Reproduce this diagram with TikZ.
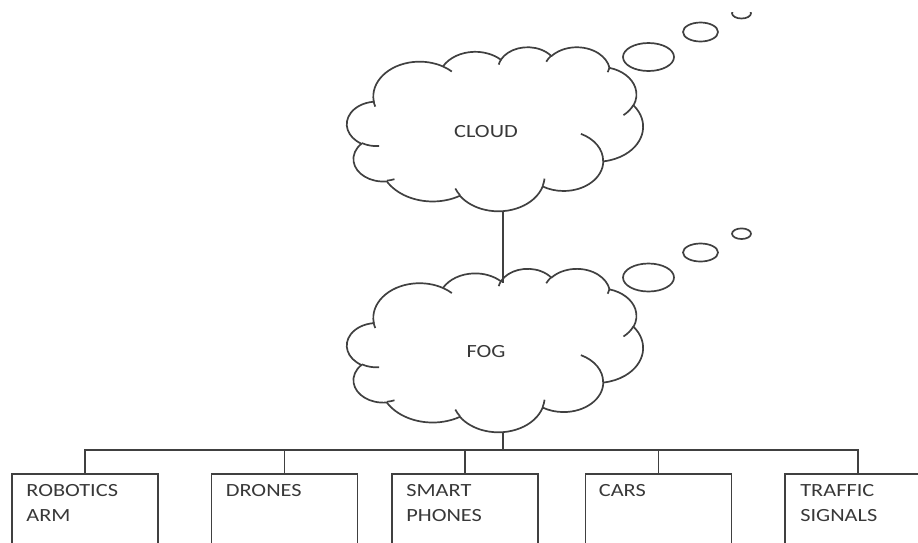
\documentclass[tikz,border=0pt]{standalone}
\usepackage{fontspec}
\setmainfont{Carlito}[FakeStretch=1.2]
\definecolor{ink}{HTML}{404040}
\definecolor{textgray}{HTML}{383838}

% point of the cloud outline, in hundredths of the 43200 x 43200 shape grid
\newcommand\cpt[2]{({\cx+(#1)/4.32*\csx},{-(\cy+(#2)/4.32*\csy)})}
% elliptic arc: radii wR hR (shape grid), start angle and sweep (degrees, y down)
\newcommand\cloudarc[4]{%
  \pgfextra{%
    \pgfmathsetmacro\cta{atan2((#1)*sin(#3),(#2)*cos(#3))}\global\let\cta\cta
    \pgfmathsetmacro\ctb{atan2((#1)*sin((#3)+(#4)),(#2)*cos((#3)+(#4)))}\global\let\ctb\ctb
    \pgfmathsetmacro\ctd{mod((\ctb)-(\cta)+720,360)}%
    \pgfmathsetmacro\ctd{(#4)<0 ? (\ctd)-360 : (\ctd)}\global\let\ctd\ctd
  }%
  arc[x radius={(#1)/432*\csx}, y radius={(#2)/432*\csy},
      start angle={-(\cta)}, delta angle={-(\ctd)}]%
}
% cloud outline with its inner hooks: left, top, width, height
\newcommand\drawcloud[4]{%
  \def\cx{#1}\def\cy{#2}\def\csx{(#3/100)}\def\csy{(#4/100)}%
  \draw[cloudline] \cpt{39.00}{143.70}
    \cloudarc{6753}{9190}{-190.4875}{123.7805}
    \cloudarc{5333}{7267}{-144.1024}{89.9452}
    \cloudarc{4365}{5945}{-145.8079}{99.7230}
    \cloudarc{4857}{6595}{-130.9861}{117.2417}
    \cloudarc{5333}{7273}{-78.7089}{109.0269}
    \cloudarc{6775}{9220}{-46.2673}{130.2690}
    \cloudarc{5785}{7867}{0.6250}{114.0333}
    \cloudarc{6752}{9215}{22.4516}{115.1726}
    \cloudarc{7720}{10543}{66.2426}{75.7110}
    \cloudarc{4360}{5918}{-274.9421}{146.7356}
    \cloudarc{4345}{5945}{-246.8285}{152.5189}
    -- cycle;
  \draw[cloudline]
    \cpt{46.93}{261.77} \cloudarc{4345}{5945}{86.7420}{26.4295}
    \cpt{69.28}{348.99} \cloudarc{4360}{5918}{73.6105}{11.4475}
    \cpt{164.78}{390.90} \cloudarc{6752}{9215}{137.6242}{14.0811}
    \cpt{288.27}{347.51} \cloudarc{6752}{9215}{6.4533}{15.9984}
    \cpt{341.29}{229.54} \cloudarc{5785}{7867}{-70.2924}{70.9174}
    \cpt{417.98}{153.54} \cloudarc{5333}{7273}{30.3180}{27.7515}
    \cpt{383.24}{54.26} \cloudarc{4857}{6595}{13.7443}{14.8589}
    \cpt{290.78}{39.52} \cloudarc{4857}{6595}{-149.1815}{18.1954}
    \cpt{221.41}{47.20} \cloudarc{4365}{5945}{-163.4943}{17.6864}
    \cpt{140.00}{51.92} \cloudarc{6753}{9190}{-66.7070}{12.3194}
    \cpt{41.27}{157.89} \cloudarc{6753}{9190}{156.6865}{13.5586};
}
\newcommand\twolines[2]{\begin{tabular}[t]{@{}l@{}}#1\\#2\end{tabular}}

\begin{document}
\begin{tikzpicture}[x=1pt,y=1pt,
  every node/.style={inner sep=0pt, text=textgray,
    font=\fontsize{18.6}{25}\selectfont},
  cloudline/.style={draw=ink, line width=1.7pt, line join=round},
  wire/.style={draw=ink, line width=1.7pt},
  bubble/.style={draw=ink, line width=1.7pt},
  devbox/.style={rectangle, draw=ink, line width=1.7pt,
    minimum width=146pt, minimum height=100pt},
  devlabel/.style={anchor=base west}]
\useasboundingbox (0,0) rectangle (918,-542);
\clip (0,0) rectangle (918,-542);

% upper cloud with its thought bubbles
\drawcloud{347}{46.7}{296}{164}
\node[anchor=base] (cloud) at (486,-137) {CLOUD};
\draw[bubble] (648.5,-57) ellipse [x radius=25.5, y radius=14];
\draw[bubble] (700.5,-32) ellipse [x radius=17.5, y radius=9.5];
\begin{scope}
  \clip (720,-12.5) rectangle (770,-30);
  \draw[bubble] (741.5,-13.2) ellipse [x radius=9.5, y radius=5.3];
\end{scope}

% lower cloud with its thought bubbles
\drawcloud{347}{268.3}{296}{163.4}
\node[anchor=base] (fog) at (486,-357) {FOG};
\draw[bubble] (648.5,-277.5) ellipse [x radius=25.5, y radius=14];
\draw[bubble] (700.5,-252.5) ellipse [x radius=17.5, y radius=9];
\draw[bubble] (741.5,-233.7) ellipse [x radius=9.5, y radius=5.3];

% anchor points of the connectors on the cloud outlines
\coordinate (cloudbottom) at (503,-210.5);
\coordinate (fogtop) at (503,-283);
\coordinate (fogbottom) at (503,-431.7);
\coordinate (bus) at (503,-450);

% device boxes
\node[devbox] (arm)     at (85,-524)    {};
\node[devbox] (drones)  at (284.5,-524) {};
\node[devbox] (phones)  at (465,-524)   {};
\node[devbox] (cars)    at (658.5,-524) {};
\node[devbox] (signals) at (858,-524)   {};

\node[devlabel] (armlbl)     at ([xshift=15pt,yshift=-23pt]arm.north west) {\twolines{ROBOTICS}{ARM}};
\node[devlabel] (droneslbl)  at ([xshift=15pt,yshift=-23pt]drones.north west) {DRONES};
\node[devlabel] (phoneslbl)  at ([xshift=15pt,yshift=-23pt]phones.north west) {\twolines{SMART}{PHONES}};
\node[devlabel] (carslbl)    at ([xshift=14pt,yshift=-23pt]cars.north west) {CARS};
\node[devlabel] (signalslbl) at ([xshift=16pt,yshift=-23pt]signals.north west) {\twolines{TRAFFIC}{SIGNALS}};

% connectors
\draw[wire] (cloudbottom) -- (fogtop);
\draw[wire] (fogbottom) -- (bus);
\draw[wire] (arm.north) |- (bus) -| (signals.north);
\draw[wire] (drones.north) -- (drones.north |- bus);
\draw[wire] (phones.north) -- (phones.north |- bus);
\draw[wire] (cars.north) -- (cars.north |- bus);
\end{tikzpicture}
\end{document}
